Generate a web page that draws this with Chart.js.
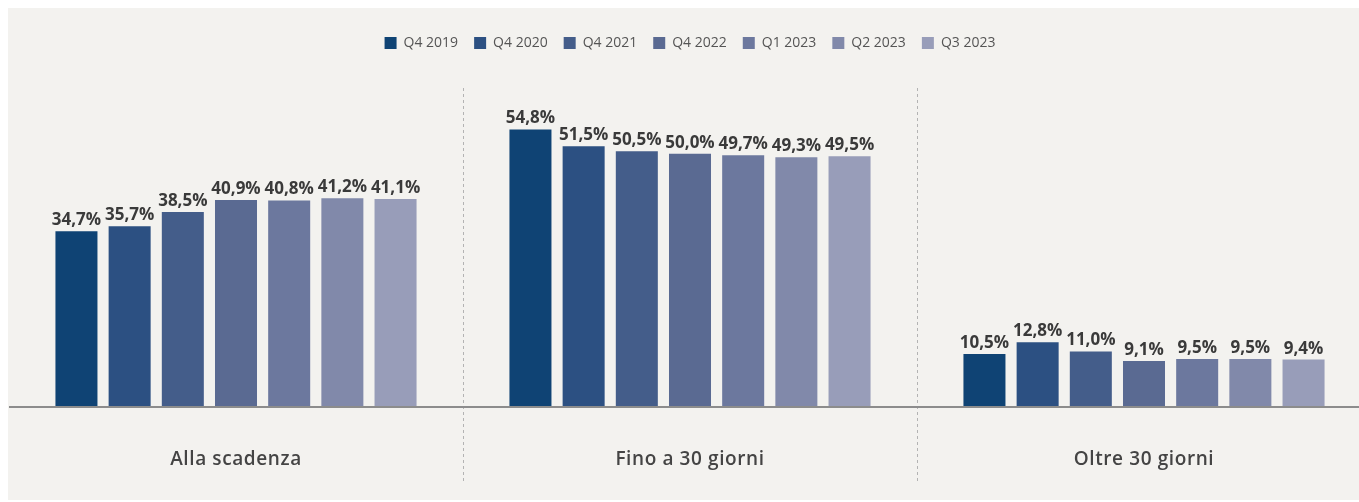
<!DOCTYPE html>
<html lang="it">
<head>
  <meta charset="UTF-8">
  <title>Pagamenti per tempistica</title>
  <script src="https://cdn.jsdelivr.net/npm/chart.js"></script>
  <style>
    body { margin: 0; background: #fff; }
    #panel { position: absolute; left: 8px; top: 8px; width: 1351px; height: 492px; background: #f3f2ef; overflow: hidden; }
    #wrap { position: absolute; left: 1px; top: 0; width: 1362px; height: 532px; }
  </style>
</head>
<body>
<div id="panel">
  <div id="wrap"><canvas id="chart"></canvas></div>
</div>

<script>
// dati
const categories = ["Alla scadenza", "Fino a 30 giorni", "Oltre 30 giorni"];
const periods = ["Q4 2019", "Q4 2020", "Q4 2021", "Q4 2022", "Q1 2023", "Q2 2023", "Q3 2023"];
const q4_2019 = [34.7, 54.8, 10.5];
const q4_2020 = [35.7, 51.5, 12.8];
const q4_2021 = [38.5, 50.5, 11.0];
const q4_2022 = [40.9, 50.0, 9.1];
const q1_2023 = [40.8, 49.7, 9.5];
const q2_2023 = [41.2, 49.3, 9.5];
const q3_2023 = [41.1, 49.5, 9.4];
const series = [q4_2019, q4_2020, q4_2021, q4_2022, q1_2023, q2_2023, q3_2023];
const colors = ["#0f4374", "#2c5082", "#445d8a", "#5a6a92", "#6c789e", "#8189aa", "#989db9"];

const fmt = v => v.toFixed(1).replace(".", ",") + "%";

// etichette sopra le barre; poi spaziatura lettere per le etichette dell'asse x (ticks.z: 1, disegnate dopo)
const valueLabels = {
  id: "valueLabels",
  afterDatasetsDraw(chart) {
    const ctx = chart.ctx;
    ctx.save();
    ctx.font = "bold 17px 'Open Sans'";
    ctx.fillStyle = "#3a3a3a";
    ctx.textAlign = "center";
    ctx.textBaseline = "alphabetic";
    chart.data.datasets.forEach((ds, i) => {
      chart.getDatasetMeta(i).data.forEach((bar, j) => {
        ctx.fillText(fmt(ds.data[j]), bar.x, bar.y - 6);
      });
    });
    ctx.restore();
    ctx.letterSpacing = "0.6px";
  },
  afterDraw(chart) {
    chart.ctx.letterSpacing = "0px";
  }
};

// separatori tratteggiati tra le categorie
const dividers = {
  id: "dividers",
  beforeDatasetsDraw(chart) {
    const x = chart.scales.x;
    const ctx = chart.ctx;
    ctx.save();
    ctx.strokeStyle = "#b3b3b3";
    ctx.lineWidth = 1;
    ctx.setLineDash([3, 3]);
    for (let i = 0; i < categories.length - 1; i++) {
      const px = Math.round((x.getPixelForValue(i) + x.getPixelForValue(i + 1)) / 2) + 0.5;
      ctx.beginPath();
      ctx.moveTo(px, 80);
      ctx.lineTo(px, 475);
      ctx.stroke();
    }
    ctx.restore();
  }
};

new Chart(document.getElementById("chart"), {
  type: "bar",
  data: {
    labels: categories,
    datasets: periods.map((p, i) => ({
      label: p,
      data: series[i],
      backgroundColor: colors[i],
      categoryPercentage: 0.82,
      barPercentage: 0.79
    }))
  },
  options: {
    responsive: true,
    maintainAspectRatio: false,
    animation: false,
    layout: { padding: { top: 12, bottom: 28, left: 0, right: 0 } },
    plugins: {
      legend: {
        position: "top",
        labels: {
          boxWidth: 12,
          boxHeight: 12,
          padding: 16,
          color: "#555",
          font: { family: "'Open Sans'", size: 14 }
        }
      },
      tooltip: { enabled: false }
    },
    scales: {
      x: {
        grid: { display: false, drawTicks: false },
        border: { display: true, color: "#8c8c8c", width: 2, z: 1 },
        ticks: {
          z: 1,
          padding: 41,
          color: "#444",
          font: { family: "'Open Sans'", size: 19, weight: "600" }
        }
      },
      y: {
        display: false,
        min: 0,
        max: 68.5
      }
    }
  },
  plugins: [dividers, valueLabels]
});
</script>
</body>
</html>
